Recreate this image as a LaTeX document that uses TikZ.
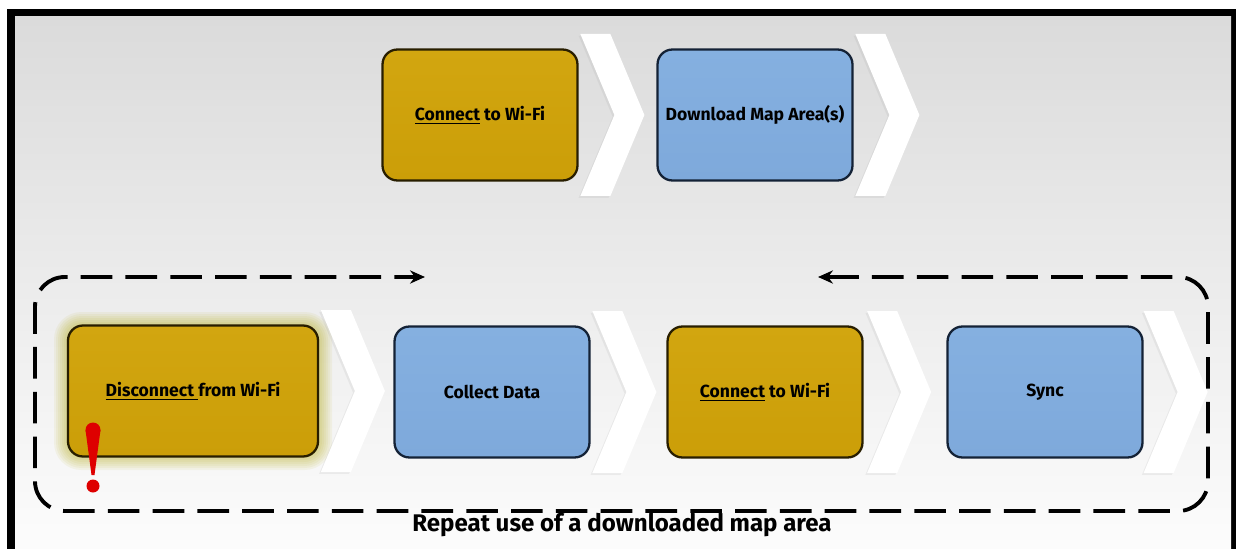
\documentclass[tikz,border=0pt]{standalone}
\usepackage{fontspec}
\setmainfont{Fira Sans}
\usetikzlibrary{arrows.meta,shadows}
\definecolor{gold}{RGB}{203,158,8}
\definecolor{goldtop}{RGB}{210,166,16}
\definecolor{goldline}{RGB}{40,30,0}
\definecolor{sky}{RGB}{126,169,219}
\definecolor{skytop}{RGB}{133,176,224}
\definecolor{skyline}{RGB}{20,34,54}
\definecolor{bang}{RGB}{222,0,0}
\tikzset{
  stepbox/.style={rounded corners=8.5pt, line width=1.3pt, minimum width=3.9cm,
    minimum height=2.62cm, font=\bfseries\fontsize{10}{12}\selectfont},
  goldbox/.style={stepbox, draw=goldline, top color=goldtop, bottom color=gold},
  bluebox/.style={stepbox, draw=skyline, top color=skytop, bottom color=sky},
  chev/.pic={
    \fill[white, drop shadow={opacity=0.1, shadow xshift=-1pt, shadow yshift=-1pt}]
      (0,-81) -- (30,-81) -- (64,0) -- (30,81) -- (0,81) -- (34,0) -- cycle;
  },
  loopline/.style={line width=2.2pt, dash pattern=on 18pt off 7.5pt,
    rounded corners=17pt, {Stealth[length=8.5pt,width=7.5pt]}-{Stealth[length=8.5pt,width=7.5pt]}}
}
\begin{document}
\begin{tikzpicture}[x=0.02cm, y=-0.02cm]
  \useasboundingbox (0,0) rectangle (1236,550);
  % frame and backdrop
  \fill[black] (7,9) rectangle (1236,549);
  \shade[top color={rgb,255:red,219;green,219;blue,219}, bottom color={rgb,255:red,252;green,252;blue,252}]
    (15,17) rectangle (1231,548);
  % glow round the first step
  \foreach \g in {2,4,...,14}
    \fill[olive!70!yellow, opacity=0.07, rounded corners=8.5pt+\g*0.5pt]
      (68-\g,326-\g) rectangle (318+\g,456+\g);
  \draw
    (480,115) node[goldbox] (w1){\underline{Connect} to Wi-Fi}
    (755,115) node[bluebox] (dl){Download Map Area(s)}
    (193,391) node[goldbox, minimum width=5cm] (dw){\underline{Disconnect }from Wi-Fi}
    (492,392) node[bluebox] (cd){Collect Data}
    (765,392) node[goldbox] (w2){\underline{Connect} to Wi-Fi}
    (1045,392) node[bluebox] (sy){Sync};
  \begin{scope}
    \pic at ([xshift=1pt]w1.east) {chev};
    \pic at ([xshift=1pt]dl.east) {chev};
    \pic at ([xshift=1pt]dw.east) {chev};
    \pic at ([xshift=1pt]cd.east) {chev};
    \pic at ([xshift=2pt]w2.east) {chev};
    \pic at (sy.east) {chev};
  \end{scope}
  % warning mark
  \fill[bang] (93,430) circle[radius=7.5];
  \fill[bang] (85.5,430) -- (100.5,430) -- (94.5,475) -- (91.5,475) -- cycle;
  \fill[bang] (93,486) circle[radius=6.5];
  % repeat loop
  \coordinate (la) at (818,277);
  \coordinate (lb) at (425,277);
  \draw[loopline] (la) -- (1208,277) -- (1208,511) -- (35,511) -- (35,277) -- (lb);
  \node[font=\bfseries\fontsize{13.7}{16}\selectfont] (cap) at (622,525) {Repeat use of a downloaded map area};
\end{tikzpicture}
\end{document}
